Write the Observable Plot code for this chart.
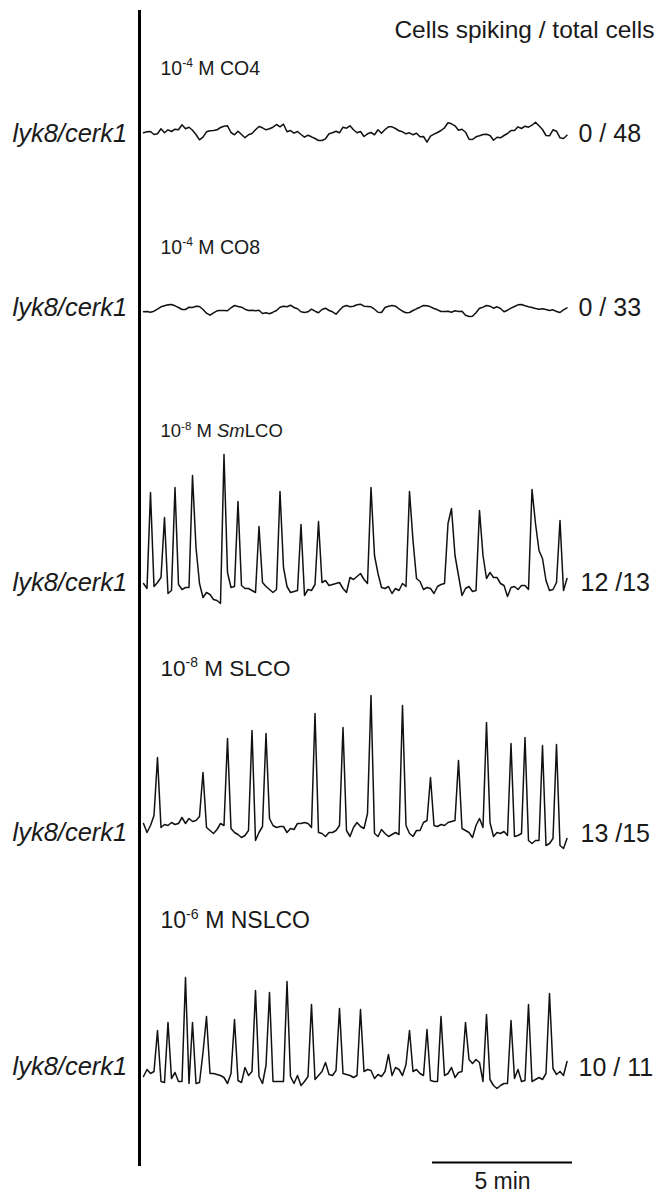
<!DOCTYPE html>
<html><head><meta charset="utf-8">
<script src="https://cdn.jsdelivr.net/npm/d3@7"></script>
<script src="https://cdn.jsdelivr.net/npm/@observablehq/plot@0.6"></script>
<style>html,body{margin:0;padding:0;background:#fff}</style>
</head><body><div id="chart"></div>
<script>
// ---------- DATA ----------
const sampleMinutes = 0.125; // one sample every 7.5 s
const conditions = ["10<sup>-4</sup> M CO4", "10<sup>-4</sup> M CO8", "10<sup>-8</sup> M <i>Sm</i>LCO", "10<sup>-8</sup> M SLCO", "10<sup>-6</sup> M NSLCO"];
const genotypes = ["lyk8/cerk1", "lyk8/cerk1", "lyk8/cerk1", "lyk8/cerk1", "lyk8/cerk1"];
const counts = ["0 / 48", "0 / 33", "12 /13", "13 /15", "10 / 11"];
const headerText = "Cells spiking / total cells";
const scaleBarMinutes = 5;
const scaleBarLabel = "5 min";

const traceCO4 = [-0.3,0.7,1,-2,-1.3,3.7,-0.3,2.7,1,3.3,
 2.7,7.7,3.7,5.3,2.3,-2,-7.3,-4.7,0.7,1.7,
 2,2.7,5,6.3,6.7,0,-2.3,1.3,-2,-5.3,
 -2.3,-1,2.7,6,4.7,2.7,3.7,5.3,8,5.7,
 8.3,0.7,2,-0.7,1,-2,-4.7,-2.7,-4.3,-6,
 -8,-8,-6.3,-1.3,-0.3,1.3,-0.3,5.3,4.3,6.7,
 2.7,-0.3,1,-4,-1.3,0,-2.3,2.7,-0.7,3,
 5.7,5.7,4,1.7,0.7,-1.3,-0.3,-2.3,-0.7,-4.3,
 -4,-9.7,-3.7,-1.7,0,2,4.7,9.7,8.7,6.7,
 2.3,3.3,0.3,-6.7,-7,-4.3,-3.3,-2,-1.7,-3,
 -7.7,-4.7,-5.3,-3,-1,2,2,5.7,4,6.3,
 5.3,7.3,10.3,6.7,3,-3,-3.3,2.7,1.3,-5.3,
 -6,-2.7];
const traceCO8 = [-2.3,-2,-2.7,-1.7,0.3,2.7,3.7,4.7,5,3.7,
 2,0,0,2.3,2,3.3,3,0,-3.7,-5.7,
 -3.3,-1.3,-1,-1,-1.3,1.7,4,3,2.3,0.3,
 -1,-0.7,-1.3,-0.7,-4,-3.3,-4.3,-2.7,-1,2.3,
 3.3,2.7,4.3,2,0.7,-2.3,-3,-2.3,0.3,-1.7,
 -3.3,0,1.3,-1,-2.3,-4.7,-0.7,2.7,4,2.7,
 3.3,4.7,5.3,3.3,3,2.7,0.3,-2.7,-3,2,
 3.3,4,3.3,0.7,-1.7,-3.3,-3,-1,0.7,2.3,
 4,3.7,2.7,1,-0.3,-2,-2,-1.7,-2.7,-1.3,
 -2,-1.7,-5.7,-7,-6.7,-3.3,1.3,2.3,4,3.3,
 1.3,2.7,1,-2.3,-0.7,1.3,3,4.7,5,3.7,
 2.7,2,1,0.3,0.7,0,-1,-0.3,-2,-3,
 -0.3,1.7];
const traceSmLCO = [4,-1,95,1,5,10,70,-6,-3,100,
 3,-2,0,0,112,40,4,-10,-5,-7,
 -12,-13,-16,133,15,0,1,86,2,-1,
 -1,-3,-5,61,5,1,-2,-5,-2,96,
 20,1,-5,-4,-3,63,-8,-2,-3,3,
 66,5,7,2,3,4,5,-1,-5,10,
 8,11,14,8,4,100,32,14,0,-1,
 1,-6,-1,-3,4,1,96,47,9,6,
 -2,0,-1,-6,1,3,4,64,79,32,
 12,-8,-1,1,-4,-3,77,32,9,15,
 10,10,4,2,-9,0,1,-2,2,2,
 -2,98,64,37,29,7,-3,-2,5,67,
 -3,9];
const traceSLCO = [4,-5,2,12,70,0,3,2,5,3,
 4,10,4,9,6,7,11,55,0,-3,
 -6,-2,4,2,89,-1,-5,-7,-10,-8,
 -3,97,-13,-5,1,94,9,2,0,1,
 1,-5,-1,-2,4,4,5,4,0,114,
 -5,-6,-9,-5,-5,-3,2,100,-3,-9,
 0,5,1,-1,14,132,-6,-9,-2,-6,
 -9,-7,-5,-7,122,2,-6,-9,-3,-3,
 5,7,50,2,1,3,2,5,6,7,
 67,-1,-3,-5,-10,2,9,0,105,5,
 -9,-5,-6,-4,-8,84,-9,-8,-6,90,
 -13,-16,-13,-13,82,-18,-16,-11,83,-18,
 -21,-11];
const traceNSLCO = [0,7,3,5,46,-5,-6,54,-2,4,
 -5,-5,99,-7,54,-7,-6,24,60,3,
 3,2,1,-1,-7,3,57,-4,-6,9,
 1,5,86,0,-7,11,84,-5,-5,-5,
 -5,95,0,-7,1,-9,-5,0,72,-3,
 1,5,14,2,1,6,68,3,2,1,
 -1,1,67,5,7,6,-2,2,0,5,
 22,1,9,7,1,12,46,5,7,3,
 1,47,-4,-5,-5,60,1,3,9,-1,
 4,5,54,17,13,17,14,-5,62,-3,
 -9,-12,-9,-7,-7,56,-2,7,-5,-4,
 72,-5,-3,-1,-3,3,83,8,2,5,
 1,15];
const traces = [traceCO4, traceCO8, traceSmLCO, traceSLCO, traceNSLCO];

// ---------- LAYOUT ----------
const W = 656, H = 1194;
const PX_PER_MIN = 28, X0 = 143;          // trace start in px
const toT = px => (px - X0) / PX_PER_MIN;  // page px -> minutes
const baseY = [132, 309, 587, 827, 1076];
const condY = [68, 247, 431, 668, 920];
const condSize = [19.5, 19.5, 18.5, 22.5, 23];
const genoY = [133, 307, 582, 832, 1066];
const countY = [133, 307, 582, 833, 1067];
const countX = [578, 578, 580, 580, 578];
const FONT = "Liberation Sans, Arial, sans-serif";

const points = traces.flatMap((tr, r) => tr.map((v, i) => ({row: r, t: i * sampleMinutes, y: baseY[r] - v})));
const barStart = toT(432);

const chart = Plot.plot({
  width: W, height: H,
  marginTop: 0, marginRight: 0, marginBottom: 0, marginLeft: 0,
  x: {domain: [toT(0), toT(W)], axis: null},
  y: {domain: [0, H], range: [0, H], axis: null},
  style: {background: "#fff", fontFamily: FONT},
  marks: [
    Plot.ruleX([toT(139)], {x: d => d, y1: 10, y2: 1166, stroke: "#000", strokeWidth: 3}),
    Plot.line(points, {x: "t", y: "y", z: "row", stroke: "#111", strokeWidth: 1.5, strokeLinejoin: "round"}),
    ...conditions.map((c, i) => Plot.text([c], {x: () => toT(160), y: () => condY[i], text: d => d, textAnchor: "start", fontSize: condSize[i], fontFamily: FONT, fill: "#1a1a1a"})),
    Plot.text(genotypes, {x: () => toT(12), y: (d, i) => genoY[i], text: d => d, textAnchor: "start", fontSize: 25.5, fontFamily: FONT, fontStyle: "italic", fill: "#1a1a1a"}),
    Plot.text(counts, {x: (d, i) => toT(countX[i]), y: (d, i) => countY[i], text: d => d, textAnchor: "start", fontSize: 25, fontFamily: FONT, fill: "#1a1a1a"}),
    Plot.text([headerText], {x: () => toT(654), y: () => 30, text: d => d, textAnchor: "end", fontSize: 24.5, fontFamily: FONT, fill: "#1a1a1a"}),
    Plot.ruleY([scaleBarMinutes], {x1: () => barStart, x2: d => barStart + d, y: () => 1162, stroke: "#000", strokeWidth: 2}),
    Plot.text([scaleBarLabel], {x: () => barStart + scaleBarMinutes / 2, y: () => 1181, text: d => d, textAnchor: "middle", fontSize: 23, fontFamily: FONT, fill: "#1a1a1a"})
  ]
});

// rich text: superscripts and italics
const NS = "http://www.w3.org/2000/svg";
chart.querySelectorAll("text").forEach(el => {
  const s = el.textContent;
  if (!/<(sup|i)>/.test(s)) return;
  const F = parseFloat(el.getAttribute("font-size") || el.parentNode.getAttribute("font-size")) || 20;
  el.textContent = "";
  const parts = s.split(/(<sup>.*?<\/sup>|<i>.*?<\/i>)/).filter(Boolean);
  let shifted = false;
  for (const p of parts) {
    const ts = document.createElementNS(NS, "tspan");
    if (p.startsWith("<sup>")) {
      ts.textContent = p.slice(5, -6);
      ts.setAttribute("font-size", F * 0.62);
      ts.setAttribute("dy", -F * 0.4);
      shifted = true;
    } else {
      if (p.startsWith("<i>")) { ts.textContent = p.slice(3, -4); ts.setAttribute("font-style", "italic"); }
      else ts.textContent = p;
      if (shifted) { ts.setAttribute("dy", F * 0.4); shifted = false; }
    }
    el.appendChild(ts);
  }
});

document.getElementById("chart").appendChild(chart);
</script>
</body></html>
